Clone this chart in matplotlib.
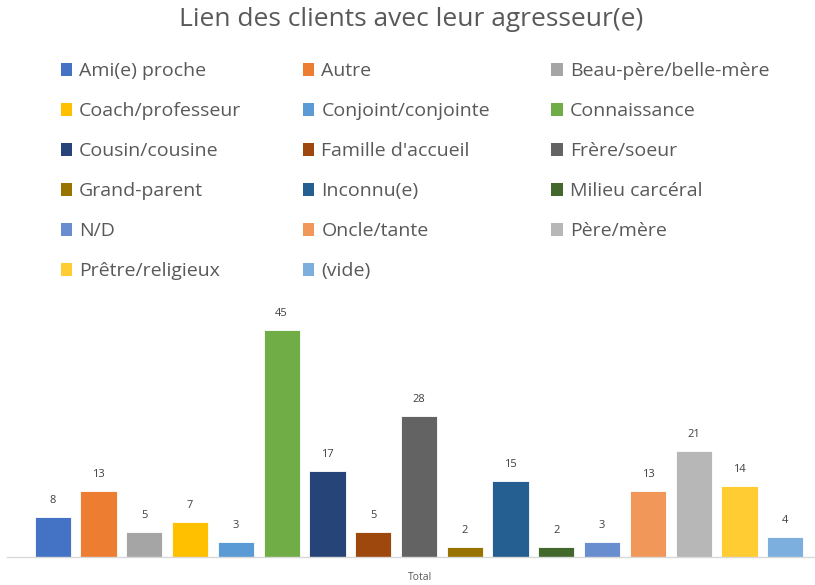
import numpy as np
import matplotlib.pyplot as plt
from matplotlib.patches import Patch

plt.rcParams['font.family'] = ['Open Sans', 'DejaVu Sans']

categories = ["Ami(e) proche", "Autre", "Beau-père/belle-mère",
              "Coach/professeur", "Conjoint/conjointe", "Connaissance",
              "Cousin/cousine", "Famille d'accueil", "Frère/soeur",
              "Grand-parent", "Inconnu(e)", "Milieu carcéral",
              "N/D", "Oncle/tante", "Père/mère",
              "Prêtre/religieux", "(vide)"]
values = [8, 13, 5, 7, 3, 45, 17, 5, 28, 2, 15, 2, 3, 13, 21, 14, 4]
colors = ["#4472C4", "#ED7D31", "#A5A5A5", "#FFC000", "#5B9BD5", "#70AD47",
          "#264478", "#9E480E", "#636363", "#997300", "#255E91", "#43682B",
          "#698ED0", "#F1975A", "#B7B7B7", "#FFCD33", "#7CAFDD"]
xlabel = "Total"
title = "Lien des clients avec leur agresseur(e)"

txt = '#595959'

fig = plt.figure(figsize=(8.15, 5.85), dpi=100)
ax = fig.add_axes([7/815, 28/585, 808/815, 257/585])

x = np.arange(len(values))
bars = ax.bar(x, values, width=0.79, color=colors, edgecolor='white', linewidth=0.6)
for xi, v in zip(x, values):
    ax.annotate(str(v), (xi, v), xytext=(0, 8), textcoords='offset points',
                ha='center', va='bottom', fontsize=8, color='#404040')

ax.set_xlim(-1.0, 16.65)
ax.set_ylim(0, 51)
ax.set_yticks([])
ax.set_xticks([])
for s in ['top', 'right', 'left']:
    ax.spines[s].set_visible(False)
ax.spines['bottom'].set_color('#D9D9D9')
ax.spines['bottom'].set_linewidth(1.0)

fig.text(420/815, 1 - 577/585, xlabel, ha='center', va='center',
         fontsize=7.5, color=txt)
fig.text(411/815, 1 - 19/585, title, ha='center', va='center',
         fontsize=19, color=txt)

# legend is filled row by row in the reference
handles = [Patch(facecolor=c, edgecolor='none') for c in colors]
order = [i for k in range(3) for i in range(len(values)) if i % 3 == k]
leg = fig.legend([handles[i] for i in order], [categories[i] for i in order],
                 ncol=3, loc='upper left', bbox_to_anchor=(43/815, 1 - 45/585),
                 frameon=False, fontsize=14, handlelength=0.6, handleheight=0.6,
                 handletextpad=0.36, columnspacing=3.15, labelspacing=1.13,
                 labelcolor=txt)

fig.savefig("out.png", dpi=100, facecolor='white')
